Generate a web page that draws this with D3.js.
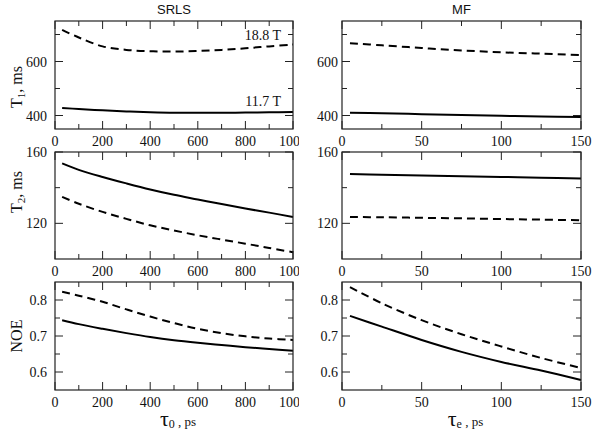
<!doctype html>
<html>
<head>
<meta charset="utf-8">
<title>SRLS vs MF relaxation</title>
<script src="https://d3js.org/d3.v7.min.js"></script>
<style>
  body { margin: 0; background: #fff; }
  svg { display: block; }
  .tick-label { font-family: "Liberation Serif", serif; font-size: 14px; fill: #111; }
  .title { font-family: "Liberation Sans", sans-serif; font-size: 13px; fill: #111; }
  .ylab { font-family: "Liberation Serif", serif; font-size: 16px; fill: #111; }
</style>
</head>
<body>
<div id="vis"></div>
<script>
// ---- data ----
var tau0 = [30, 100, 200, 300, 400, 500, 600, 700, 800, 900, 1000];      // ps (SRLS)
var tauE = [5, 25, 50, 75, 100, 125, 150];                                // ps (MF)

var srlsT1_117 = [428, 424, 419, 415, 412, 410, 410, 410, 411, 412, 413];
var srlsT1_188 = [717, 689, 656, 643, 638, 637, 639, 643, 649, 656, 663];
var mfT1_117 = [410, 408, 405, 402, 399, 396, 394];
var mfT1_188 = [668, 660, 650, 641, 634, 629, 624];

var srlsT2_117 = [153.6, 150, 146, 142.4, 139, 136, 133.4, 130.8, 128.3, 126, 123.6];
var srlsT2_188 = [134.8, 131, 126.4, 122.5, 118.9, 116, 113.3, 110.9, 108.6, 106.2, 103.8];
var mfT2_117 = [147.6, 147.2, 146.8, 146.4, 146, 145.6, 145.2];
var mfT2_188 = [123.6, 123.4, 123.1, 122.8, 122.4, 122.1, 121.7];

var srlsNOE_117 = [0.744, 0.733, 0.720, 0.708, 0.697, 0.688, 0.681, 0.675, 0.669, 0.664, 0.659];
var srlsNOE_188 = [0.823, 0.812, 0.795, 0.774, 0.754, 0.736, 0.720, 0.708, 0.699, 0.693, 0.689];
var mfNOE_117 = [0.756, 0.726, 0.689, 0.656, 0.628, 0.604, 0.578];
var mfNOE_188 = [0.836, 0.791, 0.744, 0.705, 0.671, 0.639, 0.611];

var colTitles = ['SRLS', 'MF'];
var xDomains = [[0, 1000], [0, 150]];
var xMajor = [[0, 200, 400, 600, 800, 1000], [0, 50, 100, 150]];
var xMinor = [[100, 300, 500, 700, 900], [25, 75, 125]];

var yDomains = [[350, 750], [100, 160], [0.55, 0.85]];
var yMajor = [[400, 600], [120, 160], [0.6, 0.7, 0.8]];
var yMinor = [[500, 700], [140], [0.65, 0.75]];
var yFormat = [d3.format('d'), d3.format('d'), d3.format('.1f')];

// ---- layout ----
var width = 600, height = 437;
var cols = [{ x0: 55, x1: 293, labGap: 8 }, { x0: 342, x1: 581, labGap: 4 }];
var rows = [{ y0: 21, y1: 129 }, { y0: 152, y1: 259 }, { y0: 282, y1: 390 }];

var svg = d3.select('#vis').append('svg')
  .attr('width', width)
  .attr('height', height);

svg.append('defs').append('clipPath').attr('id', 'leftclip')
  .append('rect').attr('x', 0).attr('y', 0).attr('width', 299).attr('height', height);

var panels = [
  [{ x: tau0, solid: srlsT1_117, dashed: srlsT1_188 }, { x: tauE, solid: mfT1_117, dashed: mfT1_188 }],
  [{ x: tau0, solid: srlsT2_117, dashed: srlsT2_188 }, { x: tauE, solid: mfT2_117, dashed: mfT2_188 }],
  [{ x: tau0, solid: srlsNOE_117, dashed: srlsNOE_188 }, { x: tauE, solid: mfNOE_117, dashed: mfNOE_188 }]
];

var scales = [];

rows.forEach(function(r, ri) {
  cols.forEach(function(c, ci) {
    var g = svg.append('g');
    if (ci === 0) g.attr('clip-path', 'url(#leftclip)');
    var x = d3.scaleLinear().domain(xDomains[ci]).range([c.x0, c.x1]);
    var y = d3.scaleLinear().domain(yDomains[ri]).range([r.y1, r.y0]);
    scales.push({ x: x, y: y, r: ri, c: ci });

    // ticks on all four sides, pointing inward
    function xt(vals, len) {
      vals.forEach(function(v) {
        g.append('line').attr('x1', x(v)).attr('x2', x(v)).attr('y1', r.y1).attr('y2', r.y1 - len)
          .attr('stroke', '#222').attr('stroke-width', 1);
        g.append('line').attr('x1', x(v)).attr('x2', x(v)).attr('y1', r.y0).attr('y2', r.y0 + len)
          .attr('stroke', '#222').attr('stroke-width', 1);
      });
    }
    function yt(vals, len) {
      vals.forEach(function(v) {
        g.append('line').attr('x1', c.x0).attr('x2', c.x0 + len).attr('y1', y(v)).attr('y2', y(v))
          .attr('stroke', '#222').attr('stroke-width', 1);
        g.append('line').attr('x1', c.x1).attr('x2', c.x1 - len).attr('y1', y(v)).attr('y2', y(v))
          .attr('stroke', '#222').attr('stroke-width', 1);
      });
    }
    xt(xMajor[ci], 8); xt(xMinor[ci], 5);
    yt(yMajor[ri], 8); yt(yMinor[ri], 5);

    g.selectAll('.xl').data(xMajor[ci]).enter().append('text')
      .attr('class', 'tick-label')
      .attr('x', function(d) { return x(d); })
      .attr('y', r.y1 + 17)
      .attr('text-anchor', 'middle')
      .text(function(d) { return d; });

    g.selectAll('.yl').data(yMajor[ri]).enter().append('text')
      .attr('class', 'tick-label')
      .attr('x', c.x0 - c.labGap)
      .attr('y', function(d) { return y(d) + 5; })
      .attr('text-anchor', 'end')
      .text(function(d) { return yFormat[ri](d); });

    var p = panels[ri][ci];
    var line = d3.line()
      .x(function(d) { return x(d[0]); })
      .y(function(d) { return y(d[1]); })
      .curve(d3.curveCatmullRom.alpha(0.5));

    g.append('path')
      .attr('d', line(d3.zip(p.x, p.solid)))
      .attr('fill', 'none').attr('stroke', '#000').attr('stroke-width', 2);
    g.append('path')
      .attr('d', line(d3.zip(p.x, p.dashed)))
      .attr('fill', 'none').attr('stroke', '#000').attr('stroke-width', 2)
      .attr('stroke-dasharray', '8,5');

    g.append('rect')
      .attr('x', c.x0).attr('y', r.y0)
      .attr('width', c.x1 - c.x0).attr('height', r.y1 - r.y0)
      .attr('fill', 'none').attr('stroke', '#222').attr('stroke-width', 1.2);
  });
});

// column titles
cols.forEach(function(c, ci) {
  svg.append('text').attr('class', 'title')
    .attr('x', (c.x0 + c.x1) / 2).attr('y', 14)
    .attr('text-anchor', 'middle')
    .text(colTitles[ci]);
});

// field annotations in the T1 SRLS panel
var s0 = scales[0];
svg.append('text').attr('class', 'tick-label')
  .attr('x', s0.x(950)).attr('y', s0.y(680))
  .attr('text-anchor', 'end').text('18.8 T');
svg.append('text').attr('class', 'tick-label')
  .attr('x', s0.x(950)).attr('y', s0.y(435))
  .attr('text-anchor', 'end').text('11.7 T');

// y-axis titles
function ylab(yc, parts) {
  var t = svg.append('text').attr('class', 'ylab')
    .attr('transform', 'translate(22,' + yc + ') rotate(-90)')
    .attr('text-anchor', 'middle');
  parts.forEach(function(pt) {
    var s = t.append('tspan').text(pt.t);
    if (pt.sub) s.attr('font-size', 11).attr('dy', 3);
    if (pt.back) s.attr('dy', -3);
  });
}
ylab(87, [{ t: 'T' }, { t: '1', sub: true }, { t: ', ms', back: true }]);
ylab(192, [{ t: 'T' }, { t: '2', sub: true }, { t: ', ms', back: true }]);
ylab(336, [{ t: 'NOE' }]);

// x-axis titles
function xlab(xc, sub) {
  var t = svg.append('text')
    .attr('x', xc).attr('y', 426)
    .attr('text-anchor', 'middle')
    .attr('font-family', 'Liberation Serif, serif')
    .attr('fill', '#111');
  t.append('tspan').attr('font-size', 22).text('\u03c4');
  t.append('tspan').attr('font-size', 12).attr('dy', 2).text(sub);
  t.append('tspan').attr('font-size', 13).attr('dy', -2).text(' , ps');
}
xlab((cols[0].x0 + cols[0].x1) / 2 + 4, '0');
xlab((cols[1].x0 + cols[1].x1) / 2 + 4, 'e');
</script>
</body>
</html>
